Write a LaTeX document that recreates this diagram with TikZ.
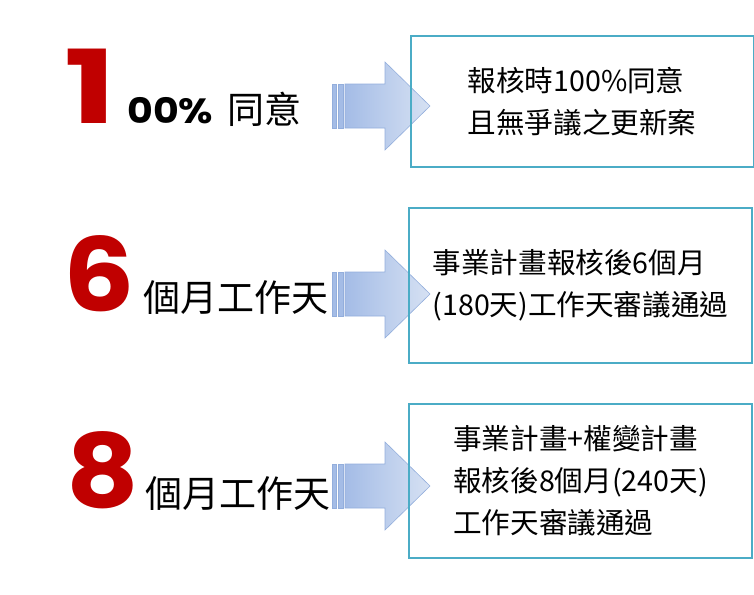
\documentclass[tikz,border=0pt]{standalone}
\usepackage{fontspec}
\usepackage{graphicx}
\newfontfamily\cjk{Noto Sans CJK TC}
\newfontfamily\numfont{Poppins}
\usetikzlibrary{positioning}
\definecolor{numred}{HTML}{C00000}
\definecolor{boxteal}{HTML}{4BACC6}
\definecolor{arrowleft}{HTML}{A4BCE6}
\definecolor{arrowright}{HTML}{D6E1F3}
\definecolor{arrowline}{HTML}{93AEDC}
\newcommand{\widen}[2]{\scalebox{#1}[1]{#2}}

\begin{document}
\begin{tikzpicture}[x=1pt,y=-1pt,
    bignum/.style={anchor=base west,inner sep=0pt,text=numred,font=\numfont\bfseries\fontsize{102}{102}\selectfont},
    sidelabel/.style={inner sep=0pt,font=\cjk\fontsize{37}{37}\selectfont},
    infobox/.style={draw=boxteal,line width=2pt,align=left,minimum width=343pt,font=\cjk\fontsize{28.6}{42}\selectfont},
    arrowbody/.style={draw=arrowline,line width=.6pt,left color=arrowleft,right color=arrowright},
    stripe/.style={draw=arrowline,line width=.6pt,fill=arrowleft}]
  \useasboundingbox (0,0) rectangle (754,594);
  % block arrows
  \foreach \y in {106,294,486} {
    \draw[stripe] (332,\y-22) rectangle (336,\y+22);
    \draw[stripe] (338,\y-22) rectangle (343,\y+22);
    \draw[arrowbody] (345,\y-22) -- (385,\y-22) -- (385,\y-44) -- (430,\y)
      -- (385,\y+44) -- (385,\y+22) -- (345,\y+22) -- cycle;
  }
  % left side
  \node[bignum] (one) at (64,123) {\widen{1.35}{1}};
  \node[sidelabel,base right=11pt of one] (lbl1) {{\numfont\bfseries\fontsize{35}{35}\selectfont\widen{1.13}{00\%}}\hspace{6pt} 同意};
  \node[bignum] (six) at (63,311.5) {\widen{1.1}{6}};
  \node[sidelabel,base right=8pt of six] (lbl2) {個月工作天};
  \node[bignum] (eight) at (66.5,507.5) {\widen{1.1}{8}};
  \node[sidelabel,base right=6pt of eight] (lbl3) {個月工作天};
  % boxes
  \node[infobox,minimum height=131pt] (box1) at (582,101.5) {報核時100\%同意\\且無爭議之更新案};
  \node[infobox,minimum height=155pt] (box2) at (580.5,285.5) {事業計畫報核後6個月\\(180天)工作天審議通過};
  \node[infobox,minimum height=154pt] (box3) at (580.5,481) {事業計畫+權變計畫\\報核後8個月(240天)\\工作天審議通過};
\end{tikzpicture}
\end{document}
